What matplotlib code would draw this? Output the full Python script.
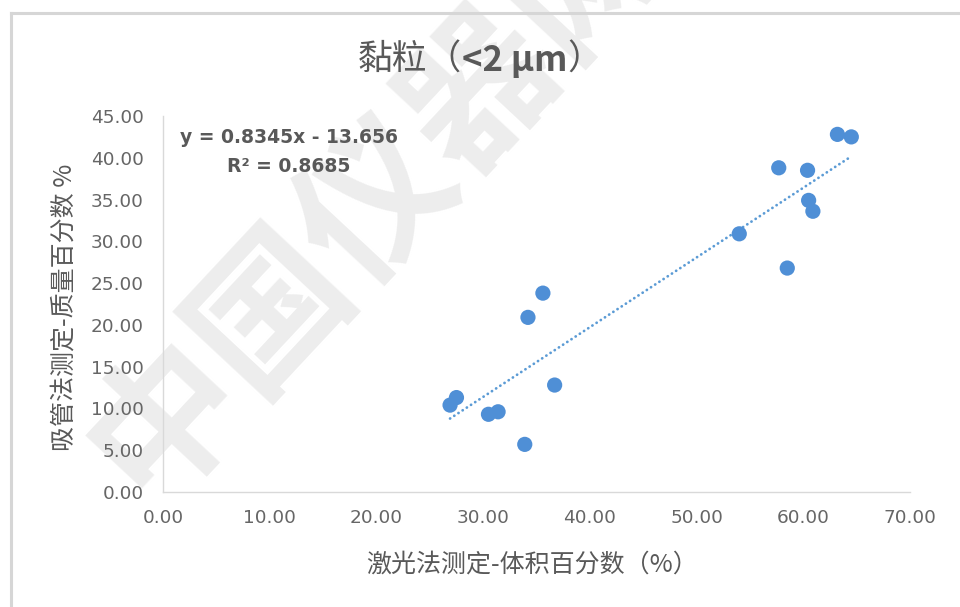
import matplotlib
matplotlib.use("Agg")
import matplotlib.pyplot as plt
from matplotlib.lines import Line2D
import numpy as np

plt.rcParams['font.family'] = ['Noto Sans CJK SC', 'DejaVu Sans']

# Laser diffraction (volume %) vs pipette method (mass %) for the clay fraction
laser_pct = [26.9, 27.5, 30.5, 31.4, 33.9, 34.2, 35.6, 36.7,
             54.0, 57.7, 60.4, 60.5, 60.9, 58.5, 63.2, 64.5]
pipette_pct = [10.4, 11.3, 9.3, 9.6, 5.7, 20.9, 23.8, 12.8,
               30.9, 38.8, 38.5, 34.9, 33.6, 26.8, 42.8, 42.5]

slope = 0.8345
intercept = -13.656
r_squared = 0.8685

x_ticks = [0, 10, 20, 30, 40, 50, 60, 70]
y_ticks = [0, 5, 10, 15, 20, 25, 30, 35, 40, 45]

title_parts = ["黏粒（", "<2 μm", "）"]
x_label = "激光法测定-体积百分数（%）"
y_label = "吸管法测定-质量百分数 %"

W, H = 960, 607
TXT = "#595959"
fig = plt.figure(figsize=(W / 100, H / 100), dpi=100)
fig.patch.set_facecolor("white")

# faint site watermark behind the chart
fig.text(376 / W, 1 - 196 / H, "中国仪器网", fontsize=110, color="#ededed",
         rotation=47, ha="center", va="center", rotation_mode="anchor",
         fontweight="bold", zorder=-5)

# chart-area frame (left and top edges)
fig.add_artist(Line2D([11 / W, 11 / W], [0, 1 - 13 / H], color="#d6d6d6",
                      lw=2.2, transform=fig.transFigure))
fig.add_artist(Line2D([11 / W, 1], [1 - 13 / H, 1 - 13 / H], color="#d6d6d6",
                      lw=2.2, transform=fig.transFigure))

left, right = 163 / W, 910 / W
bottom, top = 1 - 492 / H, 1 - 116 / H
ax = fig.add_axes([left, bottom, right - left, top - bottom])
ax.set_facecolor("none")

ax.scatter(laser_pct, pipette_pct, s=120, color="#4f8fd6", zorder=3,
           edgecolors="none")

xs = np.array([min(laser_pct), max(laser_pct)])
ax.plot(xs, slope * xs + intercept, color="#5b9bd5", lw=2.0,
        linestyle=(0, (0.05, 1.75)), dash_capstyle="round", zorder=2)

ax.set_xlim(0, 70)
ax.set_ylim(0, 45)
ax.set_xticks(x_ticks)
ax.set_yticks(y_ticks)
ax.set_xticklabels([f"{v:.2f}" for v in x_ticks], family="DejaVu Sans",
                   fontsize=13.3, color="#666666")
ax.set_yticklabels([f"{v:.2f}" for v in y_ticks], family="DejaVu Sans",
                   fontsize=13.3, color="#666666")
ax.tick_params(axis="both", length=0)
ax.tick_params(axis="x", pad=12)
ax.tick_params(axis="y", pad=14)

for side in ("top", "right"):
    ax.spines[side].set_visible(False)
for side in ("left", "bottom"):
    ax.spines[side].set_color("#d9d9d9")
    ax.spines[side].set_linewidth(1.0)

# title: CJK brackets regular, the size range bold, laid out side by side
renderer = fig.canvas.get_renderer()
weights = ["normal", "bold", "normal"]
pieces = [fig.text(0, 1 - 60 / H, p, fontsize=25, color=TXT, ha="left",
                   va="center", fontweight=w)
          for p, w in zip(title_parts, weights)]
widths = [t.get_window_extent(renderer).width for t in pieces]
x0 = 480 - sum(widths) / 2
for t, w in zip(pieces, widths):
    t.set_x(x0 / W)
    x0 += w

fig.text(532 / W, 1 - 565 / H, x_label, fontsize=18, color=TXT,
         ha="center", va="center")
fig.text(65 / W, 1 - 307 / H, y_label, fontsize=18, color=TXT,
         ha="center", va="center", rotation=90)

fig.text(289 / W, 1 - 152 / H,
         f"y = {slope}x - {abs(intercept)}\nR² = {r_squared}",
         fontsize=13.5, fontweight="bold", color=TXT,
         family="DejaVu Sans", ha="center", va="center",
         multialignment="center", linespacing=1.7)

fig.savefig("out.png", dpi=100, facecolor="white")
